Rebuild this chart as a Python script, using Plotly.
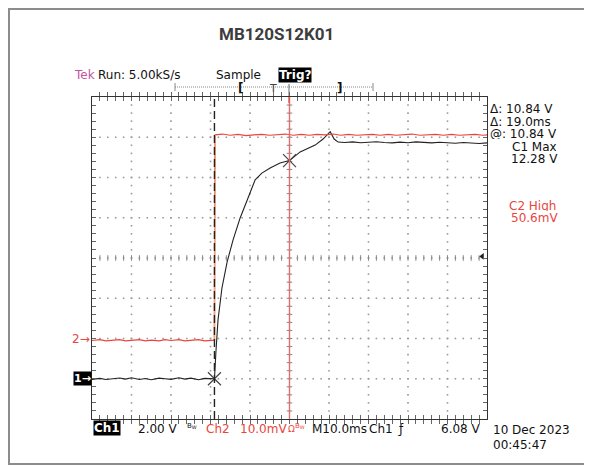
import numpy as np
import plotly.graph_objects as go

# ---------------- data (time in ms, trigger at 0) ----------------
t_ch1 = [-50, -48, -46.5, -45, -43, -41.5, -40, -38, -36.5, -35, -33, -31.5, -30, -28,
         -26.5, -25, -23, -21.5, -20, -19.0,
         -18.6, -18.1, -17.1, -15.8, -14.3, -12.5, -10.5, -8.7, -7.0, -4.9, -2.4, 0.0,
         2.7, 4.5, 6.5, 8.5, 10.3, 11.3, 12.3,
         14, 16, 18, 20, 22, 24, 26, 28, 30, 32, 34, 36, 38, 40, 42, 44, 46, 48, 50]
v_ch1 = [-0.03, 0.02, -0.04, 0.0, 0.04, -0.02, 0.05, -0.04, 0.01, -0.05, 0.03, 0.0, -0.03, 0.05,
         -0.02, 0.03, -0.05, 0.02, -0.01, 0.0,
         1.43, 2.92, 4.51, 5.80, 6.89, 7.99, 8.98, 9.88, 10.22, 10.47, 10.72, 10.84,
         11.27, 11.45, 11.61, 11.91, 12.28, 11.91, 11.76,
         11.74, 11.77, 11.73, 11.76, 11.78, 11.74, 11.72, 11.76, 11.73, 11.77, 11.74, 11.72,
         11.75, 11.73, 11.70, 11.74, 11.72, 11.69, 11.72]

t_ch2 = [-50, -48, -46.5, -45, -43, -41.5, -40, -38, -36.5, -35, -33, -31.5, -30, -28,
         -26.5, -25, -23, -21.5, -20, -19.0,
         -18.95, -18.8,
         -17, -15, -13, -11, -9, -7, -5, -3, -1, 1, 3, 5, 7, 9, 11, 13, 15, 17, 19,
         21, 23, 25, 27, 29, 31, 33, 35, 37, 39, 41, 43, 45, 47, 49, 50]
v_ch2 = [-0.5, -0.3, -0.6, -0.4, -0.3, -0.6, -0.5, -0.3, -0.6, -0.4, -0.6, -0.3, -0.5, -0.3,
         -0.6, -0.4, -0.3, -0.6, -0.5, -0.4,
         44.0, 50.6,
         50.8, 50.5, 50.7, 50.4, 50.6, 50.7, 50.5, 50.6, 50.8, 50.5, 50.7, 50.5, 50.7, 50.6,
         50.8, 50.5, 50.7, 50.5, 50.6, 50.7, 50.5, 50.7, 50.5, 50.6, 50.8, 50.5, 50.6, 50.7,
         50.5, 50.7, 50.5, 50.6, 50.7, 50.5, 50.6]

cursor_t = [-19.0, 0.0]        # ms
cursor_v = [0.0, 10.84]        # V on Ch1
trig_level = 6.08              # V

# scope settings
CH1_VDIV, CH1_POS = 2.0, -3.0      # V/div, marker position in div
CH2_VDIV, CH2_POS = 10.0, -2.0     # mV/div
T_DIV = 10.0                       # ms/div

# page pixels (the html body has an 8px margin)
OFF = 8
W, H = 592 - OFF, 466 - OFF
L, R, T, B = 92, 487, 97, 419       # plot area in page pixels
PW, PH = R - L, B - T


def px(x):
    return (x - L) / PW


def py(y):
    return (B - y) / PH


ch1_range = [(-4 - CH1_POS) * CH1_VDIV, (4 - CH1_POS) * CH1_VDIV]
ch2_range = [(-4 - CH2_POS) * CH2_VDIV, (4 - CH2_POS) * CH2_VDIV]
x_range = [-5 * T_DIV, 5 * T_DIV]

FONT = "DejaVu Sans"
RED = "#e8463c"

fig = go.Figure()

# ---------- graticule dots ----------
gx, gy = [], []
for i in range(1, 10):
    xv = x_range[0] + i * T_DIV
    for k in range(1, 40):
        gx.append(xv)
        gy.append(ch1_range[0] + k * CH1_VDIV / 5)
for j in range(1, 8):
    yv = ch1_range[0] + j * CH1_VDIV
    for k in range(1, 50):
        gx.append(x_range[0] + k * T_DIV / 5)
        gy.append(yv)
fig.add_trace(go.Scatter(x=gx, y=gy, mode="markers", hoverinfo="skip",
                         marker=dict(symbol="square", size=1.6, color="#9a9a9a"),
                         showlegend=False))
# centre-line ticks
cx = [x_range[0] + k * T_DIV / 5 for k in range(1, 50)]
fig.add_trace(go.Scatter(x=cx, y=[ch1_range[0] + 4 * CH1_VDIV] * len(cx), mode="markers",
                         hoverinfo="skip", showlegend=False,
                         marker=dict(symbol="line-ns", size=4,
                                     line=dict(color="#888", width=1))))
cy = [ch1_range[0] + k * CH1_VDIV / 5 for k in range(1, 40)]
fig.add_trace(go.Scatter(x=[0] * len(cy), y=cy, mode="markers", hoverinfo="skip",
                         showlegend=False,
                         marker=dict(symbol="line-ew", size=4,
                                     line=dict(color="#888", width=1))))

# ---------- cursors ----------
fig.add_shape(type="line", xref="x", yref="paper", x0=cursor_t[0], x1=cursor_t[0],
              y0=0, y1=1, line=dict(color="#222", width=1.4, dash="8px,4px"))
fig.add_shape(type="line", xref="x", yref="paper", x0=cursor_t[1], x1=cursor_t[1],
              y0=0, y1=1, line=dict(color="#e07070", width=1.4))

# ---------- waveforms ----------
fig.add_trace(go.Scatter(x=t_ch2, y=v_ch2, yaxis="y2", mode="lines",
                         line=dict(color=RED, width=1.2), showlegend=False))
fig.add_trace(go.Scatter(x=t_ch2[19:22], y=v_ch2[19:22], yaxis="y2", mode="lines",
                         line=dict(color="#f4a070", width=1.6), showlegend=False))
fig.add_trace(go.Scatter(x=t_ch1, y=v_ch1, mode="lines",
                         line=dict(color="#222222", width=1.1), showlegend=False))
fig.add_trace(go.Scatter(x=cursor_t, y=cursor_v, mode="markers", showlegend=False,
                         marker=dict(symbol="x-thin", size=13,
                                     line=dict(color="#444", width=1.2))))
fig.add_trace(go.Scatter(x=[x_range[1] - 1.2], y=[trig_level], mode="markers",
                         showlegend=False,
                         marker=dict(symbol="triangle-left", size=6, color="#222")))

# ---------- axes ----------
ax_common = dict(showline=True, linecolor="#333", linewidth=1, mirror="allticks",
                 ticks="inside", ticklen=4, tickcolor="#666", showticklabels=False,
                 showgrid=False, zeroline=False, fixedrange=True)
fig.update_layout(
    width=W, height=H,
    margin=dict(l=L - OFF, r=W - (R - OFF), t=T - OFF, b=H - (B - OFF)),
    paper_bgcolor="white", plot_bgcolor="white",
    xaxis=dict(range=x_range, dtick=T_DIV / 5, tick0=x_range[0], **ax_common),
    yaxis=dict(range=ch1_range, dtick=CH1_VDIV / 5, tick0=ch1_range[0], **ax_common),
    yaxis2=dict(range=ch2_range, overlaying="y", visible=False),
    showlegend=False,
)

# ---------- outer frame (left/top edges clamped to the drawable area) ----------
fig.add_shape(type="rect", xref="paper", yref="paper", x0=px(9), x1=px(600),
              y0=py(464), y1=py(9), line=dict(color="#8c8c8c", width=2))

# ---------- trigger bar ----------
fig.add_shape(type="line", xref="paper", yref="paper", x0=px(175), x1=px(373),
              y0=py(87), y1=py(87), line=dict(color="#888", width=1, dash="1px,1px"))
for xb in (175, 373):
    fig.add_shape(type="line", xref="paper", yref="paper", x0=px(xb), x1=px(xb),
                  y0=py(83), y1=py(91), line=dict(color="#888", width=1))
fig.add_shape(type="line", xref="paper", yref="paper", x0=px(289), x1=px(289),
              y0=py(84), y1=py(96), line=dict(color="#666", width=1))
fig.add_shape(type="line", xref="paper", yref="paper", x0=px(289), x1=px(289),
              y0=py(97), y1=py(103), line=dict(color=RED, width=1.2))

anns = []


def ann(text, x, y, color="#111", size=12, xanchor="left", bg=None, bold=False,
        family=FONT, pad=0, height=None):
    t = f"<b>{text}</b>" if bold else text
    d = dict(text=t, x=px(x), y=py(y), xref="paper", yref="paper",
             xanchor=xanchor, yanchor="middle",
             showarrow=False, font=dict(family=family, size=size, color=color),
             bgcolor=bg, borderpad=pad)
    if height:
        d["height"] = height
    anns.append(d)


# title
ann("MB120S12K01", 276, 34, color="#3d3d3d", size=17, xanchor="center", bold=True,
    family="Roboto")
# top status
ann("Tek", 73, 75, color="#c2549c")
ann("Run: 5.00kS/s", 97, 75)
ann("Sample", 215, 75)
ann("Trig?", 295, 75, color="white", size=12, xanchor="center", bg="black", bold=True)
ann("[", 240, 88, size=12, xanchor="center", bold=True)
ann("]", 339, 88, size=12, xanchor="center", bold=True)
ann("T", 273, 89, size=11, xanchor="center", color="#444")

# right readout (tightly packed lines)
ann("Δ: 10.84 V", 489, 109, height=11)
ann("Δ: 19.0ms", 489, 121, height=11)
ann("@: 10.84 V", 489, 133, height=11)
ann("C1 Max", 511, 146, height=11)
ann("12.28 V", 510, 158, height=11)
ann("C2 High", 508, 205, color=RED, height=11)
ann("50.6mV", 510, 217, color=RED, height=11)

# bottom status
ann("Ch1", 107, 428, color="white", xanchor="center", bg="black", bold=True)
ann("2.00 V", 137, 429)
ann("B<sub>W</sub>", 186, 426, size=7)
ann("Ch2", 205, 429, color=RED)
ann("10.0mV", 239, 429, color=RED)
ann("Ω", 287, 429, color=RED, size=9)
ann("B<sub>W</sub>", 294, 426, size=7, color=RED)
ann("M10.0ms", 311, 429)
ann("Ch1", 368, 429)
ann("ƒ", 397, 429)
ann("6.08 V", 440, 429)
ann("10 Dec 2023", 492, 430)
ann("00:45:47", 492, 445)

# channel markers (positioned on their own axes)
anns.append(dict(text="2→", x=0, xref="paper", y=0, yref="y2", xanchor="right",
                 yanchor="middle", showarrow=False,
                 font=dict(family=FONT, size=12, color=RED)))
anns.append(dict(text="<b>1→</b>", x=0, xref="paper", y=0, yref="y", xanchor="right",
                 yanchor="middle", showarrow=False, bgcolor="black", borderpad=0,
                 font=dict(family=FONT, size=11, color="white")))

fig.update_layout(annotations=anns)
fig.write_html("out.html")
